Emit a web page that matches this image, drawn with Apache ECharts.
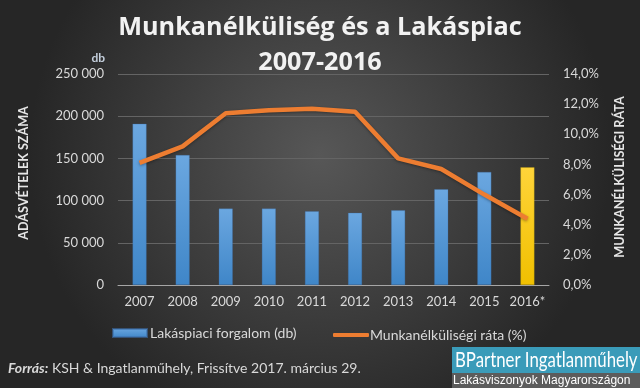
<!DOCTYPE html>
<html><head><meta charset="utf-8">
<script src="https://cdn.jsdelivr.net/npm/echarts@6/dist/echarts.min.js"></script>
<style>html,body{margin:0;padding:0;background:#333;}#c{width:640px;height:388px;}</style>
</head><body><div id="c"></div>
<script>
const categories = ['2007','2008','2009','2010','2011','2012','2013','2014','2015','2016*'];
const salesValues = [191000, 154000, 90500, 90500, 87500, 85500, 88500, 113500, 134000, 139500];
const unemploymentValues = [8.1, 9.2, 11.4, 11.6, 11.7, 11.5, 8.4, 7.7, 6.0, 4.4];
const leftTicks = [0, 50000, 100000, 150000, 200000, 250000];
const rightTicks = [0, 2, 4, 6, 8, 10, 12, 14];
const seriesNames = ['Lakáspiaci forgalom (db)', 'Munkanélküliségi ráta (%)'];

const chart = echarts.init(document.getElementById('c'));
const blueGrad = new echarts.graphic.LinearGradient(0,0,0,1,[{offset:0,color:'#6ba7e0'},{offset:1,color:'#3f86c8'}]);
const yellowGrad = new echarts.graphic.LinearGradient(0,0,0,1,[{offset:0,color:'#ffd43a'},{offset:1,color:'#f0c000'}]);
const lbl = '#d9d9d9';
const fam = 'Lato, "Open Sans", sans-serif';
const titleFam = '"Open Sans", Lato, sans-serif';
const titleShadow = {shadowColor:'rgba(0,0,0,0.6)',shadowBlur:3,shadowOffsetX:1,shadowOffsetY:2};

chart.setOption({
  backgroundColor: new echarts.graphic.RadialGradient(0.5,0.4,0.75,[{offset:0,color:'#575757'},{offset:1,color:'#262626'}]),
  textStyle:{fontFamily:fam},
  animation:false,
  grid:{left:118,right:91,top:74,bottom:103},
  legend:[
    {data:[{name:seriesNames[0],icon:'rect'}],left:112,top:326,padding:0,itemWidth:34,itemHeight:8,
     textStyle:{color:lbl,fontSize:14,fontFamily:fam,padding:[0,0,0,-2]}},
    {data:[{name:seriesNames[1],icon:'roundRect'}],left:333,top:328,padding:0,itemWidth:36,itemHeight:4,
     textStyle:{color:lbl,fontSize:14,fontFamily:fam,padding:[0,0,0,-4]}}
  ],
  xAxis:{type:'category',data:categories,
    axisLine:{lineStyle:{color:'#a6a6a6',width:1}},axisTick:{show:false},
    axisLabel:{color:lbl,fontSize:13,margin:10,interval:0}},
  yAxis:[
    {type:'value',min:0,max:250000,interval:50000,
     axisLine:{show:false},axisTick:{show:false},
     splitLine:{lineStyle:{color:'#646464',width:1}},
     axisLabel:{color:lbl,fontSize:13,margin:14,
       formatter:v=>v===0?'0':String(v).replace(/\B(?=(\d{3})+(?!\d))/g,' ')}},
    {type:'value',min:0,max:14,interval:2,position:'right',
     axisLine:{show:false},axisTick:{show:false},splitLine:{show:false},
     axisLabel:{color:lbl,fontSize:13,margin:14,formatter:v=>v.toFixed(1).replace('.',',')+'%'}}
  ],
  series:[
    {name:seriesNames[0],type:'bar',barWidth:14,yAxisIndex:0,
     itemStyle:{color:blueGrad,borderColor:'rgba(60,110,170,0.6)',borderWidth:0.5},
     data:salesValues.map((v,i)=>i===salesValues.length-1?{value:v,itemStyle:{color:yellowGrad,borderColor:'rgba(180,150,0,0.6)'}}:v)},
    {name:seriesNames[1],type:'line',yAxisIndex:1,showSymbol:false,symbol:'none',
     lineStyle:{color:'#ed7d31',width:4.5,shadowColor:'rgba(0,0,0,0.35)',shadowBlur:3,shadowOffsetY:1},
     itemStyle:{color:'#ed7d31'},
     data:unemploymentValues}
  ],
  graphic:[
    {type:'text',x:320,y:28.5,scaleX:1.03,style:Object.assign({text:'Munkanélküliség és a Lakáspiac',fill:'#f2f2f2',font:'bold 24.5px '+titleFam,align:'center',verticalAlign:'middle'},titleShadow)},
    {type:'text',x:320,y:63,scaleX:1.03,style:Object.assign({text:'2007-2016',fill:'#f2f2f2',font:'bold 24.5px '+titleFam,align:'center',verticalAlign:'middle'},titleShadow)},
    {type:'text',x:105,y:64,style:{text:'db',fill:'#c4cfdc',font:'bold 12px '+fam,align:'right',verticalAlign:'bottom'}},
    {type:'text',x:24,y:173,rotation:Math.PI/2,style:{text:'ADÁSVÉTELEK SZÁMA',fill:'#e6e6e6',font:'bold 12.6px '+fam,align:'center',verticalAlign:'middle'}},
    {type:'text',x:620,y:177,rotation:Math.PI/2,style:{text:'MUNKANÉLKÜLISÉGI RÁTA',fill:'#e6e6e6',font:'bold 12.6px '+fam,align:'center',verticalAlign:'middle'}},
    {type:'text',x:8,y:368,style:{text:'{b|Forrás:} KSH & Ingatlanműhely, Frissítve 2017. március 29.',fill:'#d9d9d9',font:'14px '+fam,verticalAlign:'middle',
      rich:{b:{fontWeight:'bold',fontStyle:'italic',fontSize:14,fontFamily:fam,fill:'#d9d9d9'}}}},
    {type:'rect',shape:{x:452,y:347,width:188,height:26},style:{fill:'#3a9bb9'}},
    {type:'rect',shape:{x:452,y:373,width:188,height:15},style:{fill:'#5c5c5c'}},
    {type:'text',x:455,y:360,scaleX:0.8,style:{text:'BPartner Ingatlanműhely',fill:'#ffffff',font:'21px Lato, sans-serif',verticalAlign:'middle'}},
    {type:'text',x:453,y:381,style:{text:'Lakásviszonyok Magyarországon',fill:'#ffffff',font:'12px "Liberation Sans", Arial, sans-serif',verticalAlign:'middle'}}
  ]
});
</script></body></html>
